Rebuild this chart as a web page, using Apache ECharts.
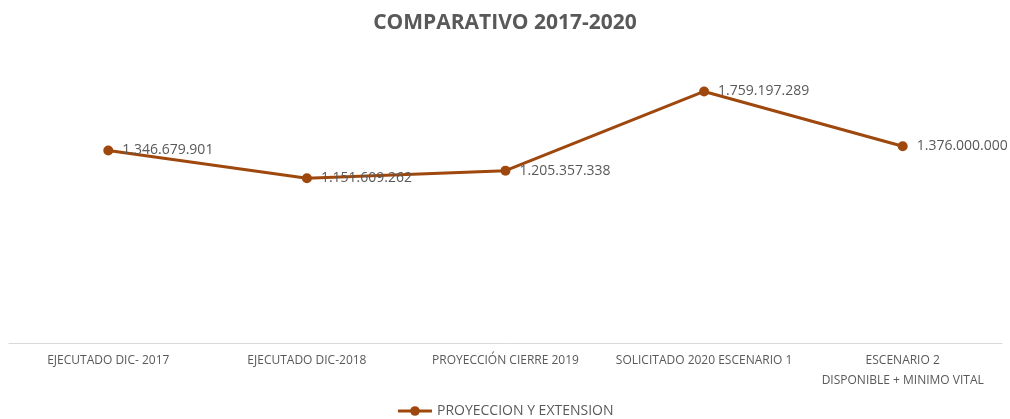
<!DOCTYPE html>
<html><head><meta charset="utf-8">
<script src="https://cdn.jsdelivr.net/npm/echarts@6/dist/echarts.min.js"></script>
<style>html,body{margin:0;padding:0;background:#fff}#c{width:1010px;height:419px}</style>
</head><body><div id="c"></div>
<script>
const categories = ['EJECUTADO DIC- 2017','EJECUTADO DIC-2018','PROYECCIÓN CIERRE 2019','SOLICITADO 2020 ESCENARIO 1','ESCENARIO 2\nDISPONIBLE + MINIMO VITAL'];
const values = [1346679901, 1151609262, 1205357338, 1759197289, 1376000000];
const seriesName = 'PROYECCION Y EXTENSION';
const titleText = 'COMPARATIVO 2017-2020';

function fmt(v){ return String(v).replace(/\B(?=(\d{3})+(?!\d))/g, '.'); }
const font = '"Open Sans", sans-serif';
const chart = echarts.init(document.getElementById('c'));
chart.setOption({
  animation:false,
  title:{text:titleText,left:'center',top:8,textStyle:{fontSize:21,fontWeight:'bold',color:'#595959',fontFamily:font}},
  grid:{left:9,right:8,top:57,bottom:76},
  legend:{bottom:-4,left:'center',itemWidth:34,itemHeight:12,itemGap:4,
    lineStyle:{width:3},
    textStyle:{fontSize:14,color:'#595959',fontFamily:font},data:[seriesName]},
  xAxis:{type:'category',data:categories,boundaryGap:true,
    axisLine:{lineStyle:{color:'#d9d9d9',width:1}},axisTick:{show:false},
    axisLabel:{color:'#595959',fontSize:12,fontFamily:font,margin:8,lineHeight:20,interval:0}},
  yAxis:{type:'value',min:0,max:2000000000,show:false,splitLine:{show:false}},
  series:[{name:seriesName,type:'line',data:values,symbol:'circle',symbolSize:10,
    itemStyle:{color:'#9E480E'},lineStyle:{color:'#9E480E',width:3},
    label:{show:true,position:'right',distance:9,color:'#595959',fontSize:14,fontFamily:font,formatter:p=>fmt(p.value)}}]
});
</script></body></html>
